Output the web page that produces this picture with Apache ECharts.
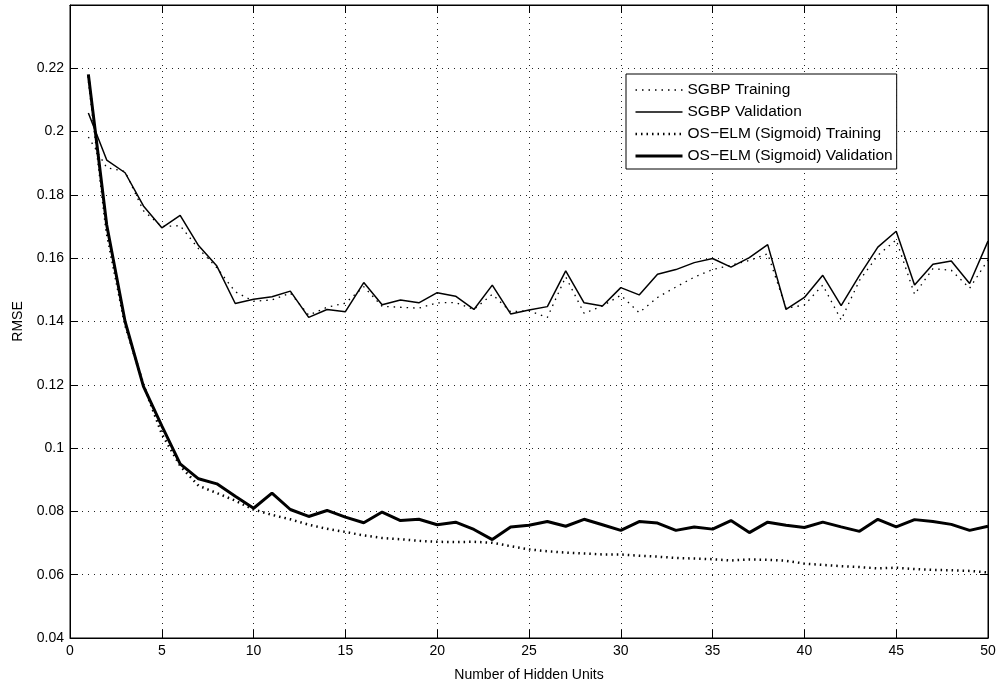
<!DOCTYPE html>
<html>
<head>
<meta charset="utf-8">
<script src="https://cdn.jsdelivr.net/npm/echarts@6/dist/echarts.min.js"></script>
<style>
  html, body { margin: 0; padding: 0; background: #fff; }
  #main { width: 999px; height: 687px; }
</style>
</head>
<body>
<div id="main"></div>
<script>
// Daten
var hiddenUnits = [1, 2, 3, 4, 5, 6, 7, 8, 9, 10, 11, 12, 13, 14, 15, 16, 17, 18, 19, 20,
  21, 22, 23, 24, 25, 26, 27, 28, 29, 30, 31, 32, 33, 34, 35, 36, 37, 38, 39, 40,
  41, 42, 43, 44, 45, 46, 47, 48, 49, 50];

var sgbpTraining = [0.1983, 0.1886, 0.1874, 0.1750, 0.1700, 0.1703, 0.1630, 0.1570, 0.1494, 0.1464,
  0.1468, 0.1490, 0.1420, 0.1445, 0.1458, 0.1510, 0.1448, 0.1445, 0.1442, 0.1459,
  0.1460, 0.1438, 0.1486, 0.1431, 0.1434, 0.1413, 0.1541, 0.1426, 0.1449, 0.1483,
  0.1428, 0.1476, 0.1509, 0.1540, 0.1564, 0.1578, 0.1593, 0.1614, 0.1442, 0.1452,
  0.1515, 0.1405, 0.1530, 0.1609, 0.1658, 0.1486, 0.1567, 0.1562, 0.1505, 0.1595];

var sgbpValidation = [0.2059, 0.1910, 0.1870, 0.1765, 0.1696, 0.1735, 0.1640, 0.1575, 0.1457, 0.1470,
  0.1478, 0.1496, 0.1413, 0.1438, 0.1431, 0.1523, 0.1453, 0.1468, 0.1459, 0.1491,
  0.1480, 0.1438, 0.1515, 0.1424, 0.1436, 0.1447, 0.1560, 0.1459, 0.1449, 0.1507,
  0.1484, 0.1549, 0.1564, 0.1586, 0.1599, 0.1572, 0.1602, 0.1643, 0.1438, 0.1476,
  0.1546, 0.1450, 0.1546, 0.1635, 0.1685, 0.1515, 0.1581, 0.1591, 0.1520, 0.1654];

var elmTraining = [0.2175, 0.1680, 0.1390, 0.1200, 0.1045, 0.0944, 0.0881, 0.0858, 0.0834, 0.0806,
  0.0789, 0.0775, 0.0758, 0.0745, 0.0735, 0.0724, 0.0716, 0.0712, 0.0707, 0.0704,
  0.0703, 0.0704, 0.0701, 0.0690, 0.0680, 0.0674, 0.0670, 0.0667, 0.0664, 0.0664,
  0.0660, 0.0657, 0.0653, 0.0651, 0.0649, 0.0645, 0.0648, 0.0647, 0.0644, 0.0635,
  0.0631, 0.0627, 0.0624, 0.0620, 0.0622, 0.0618, 0.0615, 0.0614, 0.0612, 0.0607];

var elmValidation = [0.2181, 0.1705, 0.1400, 0.1195, 0.1070, 0.0950, 0.0903, 0.0887, 0.0848, 0.0810,
  0.0858, 0.0806, 0.0784, 0.0803, 0.0782, 0.0764, 0.0798, 0.0771, 0.0775, 0.0758,
  0.0766, 0.0743, 0.0711, 0.0751, 0.0756, 0.0768, 0.0753, 0.0775, 0.0758, 0.0740,
  0.0768, 0.0763, 0.0740, 0.0751, 0.0744, 0.0771, 0.0733, 0.0766, 0.0756, 0.0749,
  0.0766, 0.0751, 0.0737, 0.0775, 0.0751, 0.0774, 0.0768, 0.0759, 0.0740, 0.0753];

var seriesNames = ['SGBP Training', 'SGBP Validation', 'OS\u2212ELM (Sigmoid) Training', 'OS\u2212ELM (Sigmoid) Validation'];

function pairs(values) {
  return hiddenUnits.map(function (x, i) { return [x, values[i]]; });
}

var fontFamily = '"Liberation Sans", Arial, Helvetica, sans-serif';

var myChart = echarts.init(document.getElementById('main'));

// Linienstile: duenn gepunktet, duenn, dick gepunktet, dick
var lineStyles = [
  { color: '#000', width: 1.3, type: [1.5, 5] },
  { color: '#000', width: 1.5, type: 'solid' },
  { color: '#000', width: 2.5, type: [1.5, 4] },
  { color: '#000', width: 3, type: 'solid' }
];

var gridLine = { show: true, lineStyle: { color: '#222', width: 1, type: [1, 5] } };
var tickIn = { show: true, inside: true, length: 8, lineStyle: { color: '#000', width: 1 } };
var axisLine = { show: true, onZero: false, lineStyle: { color: '#000', width: 1 } };

var option = {
  backgroundColor: '#fff',
  animation: false,
  color: ['#000', '#000', '#000', '#000'],
  textStyle: { fontFamily: fontFamily },
  grid: {
    left: 70, top: 5, right: 11, bottom: 47,
    show: true, borderColor: '#000', borderWidth: 1
  },
  legend: {
    orient: 'vertical',
    left: 626,
    top: 74,
    padding: [8, 4, 5, 8],
    itemWidth: 47,
    itemHeight: 14,
    itemGap: 6,
    borderColor: '#000',
    borderWidth: 1,
    backgroundColor: '#fff',
    itemStyle: { opacity: 0 },
    textStyle: { fontFamily: fontFamily, fontSize: 15.5, color: '#000', lineHeight: 14 },
    data: seriesNames.map(function (n, i) {
      return { name: n, lineStyle: lineStyles[i], itemStyle: { opacity: 0 } };
    })
  },
  xAxis: [
    {
      type: 'value', min: 0, max: 50, interval: 5, position: 'bottom',
      name: 'Number of Hidden Units', nameLocation: 'middle', nameGap: 30,
      nameTextStyle: { fontFamily: fontFamily, fontSize: 14, color: '#000' },
      axisLine: axisLine, axisTick: tickIn, splitLine: gridLine,
      axisLabel: { color: '#000', fontSize: 14, fontFamily: fontFamily, margin: 6 }
    },
    {
      type: 'value', min: 0, max: 50, interval: 5, position: 'top',
      axisLine: axisLine, axisTick: tickIn, splitLine: { show: false },
      axisLabel: { show: false }
    }
  ],
  yAxis: [
    {
      type: 'value', min: 0.04, max: 0.24, interval: 0.02, position: 'left',
      name: 'RMSE', nameLocation: 'middle', nameGap: 45,
      nameTextStyle: { fontFamily: fontFamily, fontSize: 14, color: '#000' },
      axisLine: axisLine, axisTick: tickIn, splitLine: gridLine,
      axisLabel: {
        color: '#000', fontSize: 14, fontFamily: fontFamily, margin: 6,
        formatter: function (v) {
          if (v > 0.235) return '';
          return String(parseFloat(v.toFixed(2)));
        }
      }
    },
    {
      type: 'value', min: 0.04, max: 0.24, interval: 0.02, position: 'right',
      axisLine: axisLine, axisTick: tickIn, splitLine: { show: false },
      axisLabel: { show: false }
    }
  ],
  series: [
    {
      name: seriesNames[0], type: 'line', symbol: 'none', data: pairs(sgbpTraining),
      itemStyle: { color: '#000' }, lineStyle: lineStyles[0], z: 2
    },
    {
      name: seriesNames[1], type: 'line', symbol: 'none', data: pairs(sgbpValidation),
      itemStyle: { color: '#000' }, lineStyle: lineStyles[1], z: 3
    },
    {
      name: seriesNames[2], type: 'line', symbol: 'none', data: pairs(elmTraining),
      itemStyle: { color: '#000' }, lineStyle: lineStyles[2], z: 2
    },
    {
      name: seriesNames[3], type: 'line', symbol: 'none', data: pairs(elmValidation),
      itemStyle: { color: '#000' }, lineStyle: lineStyles[3], z: 3
    }
  ]
};

myChart.setOption(option);
</script>
</body>
</html>
